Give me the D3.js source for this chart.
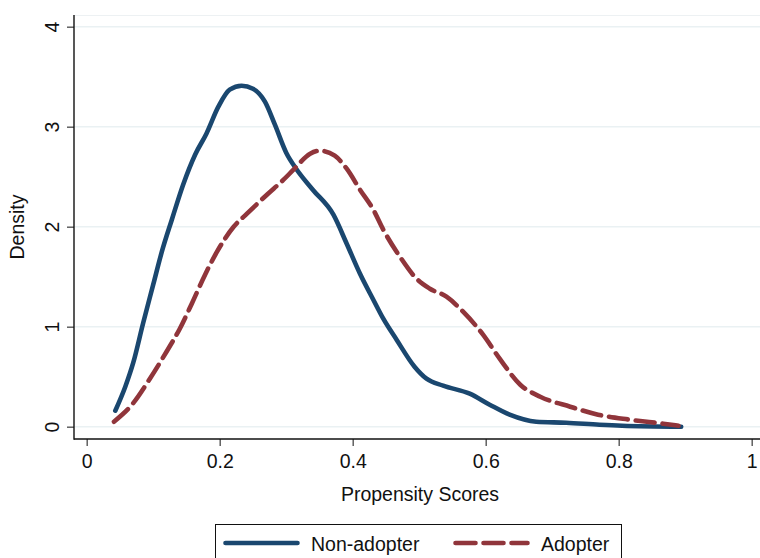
<!DOCTYPE html>
<html>
<head>
<meta charset="utf-8">
<script src="https://cdn.jsdelivr.net/npm/d3@7"></script>
<style>
  html, body { margin: 0; padding: 0; background: #fff; }
  svg { display: block; font-family: "Liberation Sans", Arial, sans-serif; }
</style>
</head>
<body>
<svg id="chart" width="760" height="558"></svg>
<script>
// ---- data ----
const nonAdopterX = [0.043,0.058,0.070,0.085,0.100,0.113,0.128,0.145,0.163,0.180,0.198,0.215,0.233,0.250,0.268,0.283,0.300,0.316,0.340,0.371,0.391,0.411,0.431,0.446,0.466,0.493,0.511,0.536,0.576,0.606,0.636,0.676,0.721,0.771,0.805,0.894];
const nonAdopterY = [0.16,0.40,0.64,1.04,1.42,1.75,2.07,2.42,2.72,2.93,3.20,3.37,3.41,3.38,3.25,3.02,2.74,2.57,2.37,2.12,1.83,1.53,1.27,1.08,0.87,0.60,0.48,0.41,0.33,0.22,0.12,0.05,0.04,0.02,0.01,0.00];
const adopterX = [0.041,0.068,0.095,0.120,0.140,0.158,0.178,0.196,0.221,0.241,0.271,0.296,0.311,0.336,0.351,0.373,0.391,0.411,0.431,0.446,0.471,0.496,0.516,0.541,0.566,0.596,0.621,0.652,0.682,0.727,0.769,0.817,0.867,0.890];
const adopterY = [0.05,0.22,0.48,0.75,0.98,1.23,1.52,1.75,2.00,2.13,2.32,2.47,2.57,2.73,2.76,2.71,2.58,2.37,2.17,1.97,1.70,1.48,1.38,1.30,1.15,0.92,0.68,0.42,0.30,0.20,0.12,0.07,0.03,0.01];
const xTicks = [0, 0.2, 0.4, 0.6, 0.8, 1];
const yTicks = [0, 1, 2, 3, 4];
const seriesNames = ["Non-adopter", "Adopter"];
const xTitle = "Propensity Scores";
const yTitle = "Density";

const navy = "#1a476f", maroon = "#90353b", grid = "#eaf1f3";
const svg = d3.select("#chart");

const x = d3.scaleLinear().domain([0, 1]).range([86.7, 751.7]);
const y = d3.scaleLinear().domain([0, 4]).range([426.7, 26.7]);
const axisX0 = 74, axisY0 = 439, plotTop = 15, plotRight = 760;

// plot region top line
svg.append("line").attr("x1", axisX0).attr("x2", plotRight)
  .attr("y1", plotTop + 0.5).attr("y2", plotTop + 0.5)
  .attr("stroke", "#edf1f3").attr("stroke-width", 1);

// gridlines
svg.append("g").selectAll("line").data(yTicks).join("line")
  .attr("x1", axisX0).attr("x2", plotRight)
  .attr("y1", d => y(d)).attr("y2", d => y(d))
  .attr("stroke", grid).attr("stroke-width", 1.6);

// curves
const line = d3.line().x(d => x(d[0])).y(d => y(d[1])).curve(d3.curveMonotoneX);
const nonData = nonAdopterX.map((v, i) => [v, nonAdopterY[i]]);
const adData = adopterX.map((v, i) => [v, adopterY[i]]);

svg.append("path").datum(nonData).attr("d", line)
  .attr("fill", "none").attr("stroke", navy).attr("stroke-width", 4.6)
  .attr("stroke-linecap", "round").attr("stroke-linejoin", "round");
svg.append("path").datum(adData).attr("d", line)
  .attr("fill", "none").attr("stroke", maroon).attr("stroke-width", 4.6)
  .attr("stroke-linecap", "round").attr("stroke-linejoin", "round")
  .attr("stroke-dasharray", "19,8");

// y axis
const yAxis = d3.axisLeft(y).tickValues(yTicks).tickFormat(d3.format("d")).tickSize(7).tickSizeOuter(0);
const gy = svg.append("g").attr("transform", `translate(${axisX0},0)`).call(yAxis);
gy.select(".domain").remove();
gy.append("line").attr("x1", 0).attr("x2", 0).attr("y1", plotTop).attr("y2", axisY0 + 0.7)
  .attr("stroke", "#111").attr("stroke-width", 1.4);
gy.selectAll(".tick line").attr("stroke", "#555").attr("stroke-width", 1.4);
gy.selectAll(".tick text")
  .attr("font-size", "19.5px").attr("fill", "#111")
  .attr("text-anchor", "middle").attr("x", null).attr("dy", null)
  .attr("transform", "translate(-15,0) rotate(-90)")
  .attr("y", 0);

// x axis
const xAxis = d3.axisBottom(x).tickValues(xTicks).tickFormat(d => d === 0 ? "0" : d === 1 ? "1" : d3.format(".1f")(d)).tickSize(7).tickSizeOuter(0);
const gx = svg.append("g").attr("transform", `translate(0,${axisY0})`).call(xAxis);
gx.select(".domain").remove();
gx.append("line").attr("x1", axisX0).attr("x2", plotRight).attr("y1", 0).attr("y2", 0)
  .attr("stroke", "#111").attr("stroke-width", 1.4);
gx.selectAll(".tick line").attr("stroke", "#555").attr("stroke-width", 1.4);
gx.selectAll(".tick text").attr("font-size", "19.5px").attr("fill", "#111")
  .attr("y", 29).attr("dy", null);

// axis titles
svg.append("text").attr("x", 420).attr("y", 501).attr("text-anchor", "middle")
  .attr("font-size", "19.5px").attr("fill", "#111").text(xTitle);
svg.append("text").attr("transform", "translate(24,227) rotate(-90)")
  .attr("text-anchor", "middle").attr("font-size", "19.5px").attr("fill", "#111").text(yTitle);

// legend
const lg = svg.append("g");
lg.append("rect").attr("x", 215.5).attr("y", 524.5).attr("width", 406).attr("height", 60)
  .attr("fill", "#fff").attr("stroke", "#111").attr("stroke-width", 1);
const legendItems = [
  { name: seriesNames[0], color: navy, dash: null, x1: 225.5, x2: 297.5, tx: 311 },
  { name: seriesNames[1], color: maroon, dash: "20,8", x1: 455.5, x2: 527.5, tx: 541 }
];
legendItems.forEach(it => {
  const l = lg.append("line").attr("x1", it.x1).attr("x2", it.x2).attr("y1", 543).attr("y2", 543)
    .attr("stroke", it.color).attr("stroke-width", 4.6).attr("stroke-linecap", "round");
  if (it.dash) l.attr("stroke-dasharray", it.dash);
  lg.append("text").attr("x", it.tx).attr("y", 551).attr("font-size", "19.5px")
    .attr("fill", "#111").text(it.name);
});
</script>
</body>
</html>
